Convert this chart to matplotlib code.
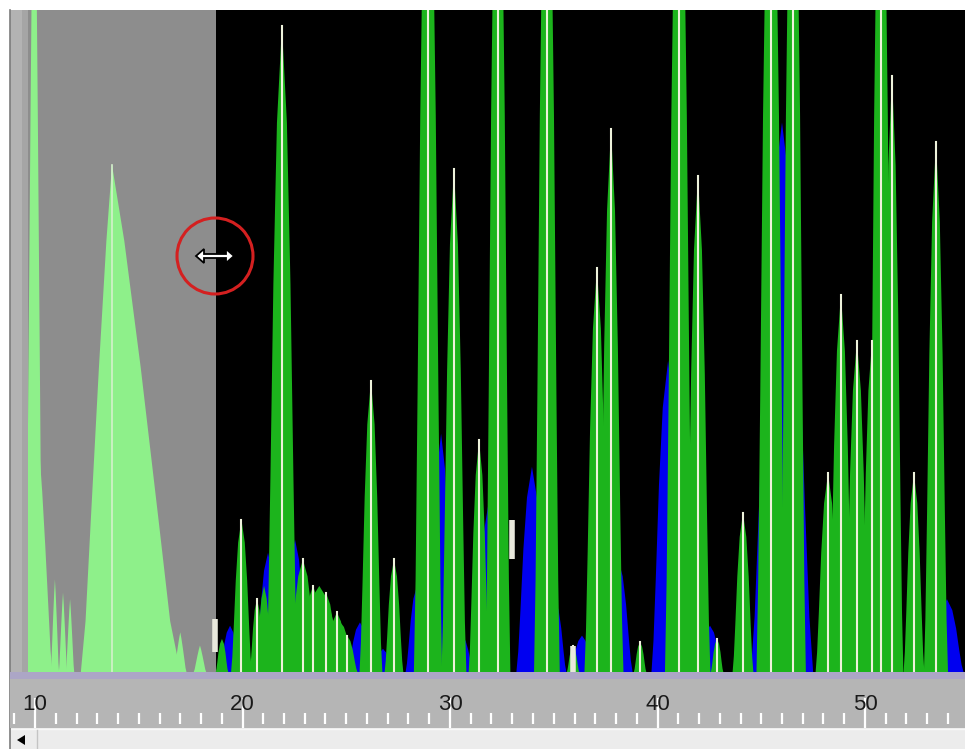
import matplotlib
matplotlib.use("Agg")
import matplotlib.pyplot as plt
from matplotlib.patches import Circle, Rectangle, Polygon

W, H = 965, 749

# time axis (minutes)
tick_major = [10, 20, 30, 40, 50]
tick_minor = [t for t in range(9, 55) if t % 10]

# selected window (grey band)
sel_start, sel_end = 9.66, 18.72

# green trace: peak centre, height (1 = top of window), half width at base
green_c = [19.95, 20.70, 21.90, 22.91, 23.40, 24.02, 24.55, 25.04, 26.19, 27.30,
           28.94, 30.19, 31.40, 32.31, 34.67, 35.93, 37.08, 37.76, 39.16, 41.04,
           41.95, 42.87, 44.12, 45.47, 46.53, 48.22, 48.84, 49.61, 50.34, 50.77,
           51.30, 52.36, 53.42]
green_h = [0.23, 0.11, 0.976, 0.17, 0.13, 0.12, 0.09, 0.055, 0.44, 0.17,
           1.4, 0.76, 0.35, 1.4, 1.4, 0.04, 0.61, 0.82, 0.045, 1.4,
           0.75, 0.05, 0.24, 1.4, 1.4, 0.30, 0.57, 0.50, 0.50, 1.4,
           0.90, 0.30, 0.80]
green_w = [0.5, 0.35, 0.75, 0.7, 0.65, 0.65, 0.6, 0.5, 0.55, 0.45,
           0.68, 0.6, 0.5, 0.6, 0.62, 0.3, 0.6, 0.6, 0.3, 0.68,
           0.6, 0.3, 0.5, 0.7, 0.62, 0.6, 0.6, 0.6, 0.55, 0.6,
           0.55, 0.5, 0.58]

# green shoulders with no centroid line
shoulder_c = [19.01, 21.04, 23.70, 24.60]
shoulder_h = [0.05, 0.13, 0.13, 0.08]
shoulder_w = [0.3, 0.4, 1.2, 0.9]

# blue trace
blue_c = [19.40, 21.23, 22.53, 25.66, 26.77, 28.41, 29.57, 30.58, 31.83, 33.95,
          35.06, 36.36, 38.10, 40.51, 41.30, 42.53, 46.00, 53.95]
blue_h = [0.07, 0.18, 0.20, 0.075, 0.035, 0.13, 0.36, 0.055, 0.25, 0.31,
          0.11, 0.055, 0.17, 0.47, 0.28, 0.07, 0.83, 0.11]
blue_w = [0.5, 0.6, 0.6, 0.6, 0.45, 0.55, 0.6, 0.55, 0.6, 0.75,
          0.55, 0.55, 0.7, 0.8, 0.7, 0.6, 1.5, 0.8]

# peaks inside the selected window (drawn light green)
sel_c = [9.96, 10.24, 10.96, 11.35, 11.69, 13.71, 17.00, 17.95]
sel_h = [1.4, 0.32, 0.14, 0.12, 0.11, 0.766, 0.06, 0.04]
sel_wl = [0.42, 0.45, 0.2, 0.2, 0.2, 1.5, 0.3, 0.3]
sel_wr = [0.42, 0.6, 0.2, 0.2, 0.2, 3.3, 0.3, 0.3]

# small centroid boxes (time, low, high)
box_x = [18.67, 32.99, 35.93]
box_lo = [0.03, 0.17, 0.0]
box_hi = [0.08, 0.23, 0.04]

# generic peak outline, fractions of height / half width
SHAPE_Y = [0, 0.1, 0.3, 0.6, 0.85, 1.0]
SHAPE_X = [1, 0.88, 0.74, 0.55, 0.32, 0]
SEL_SHAPE_X = [1, 0.85, 0.68, 0.42, 0.18, 0]

# resize cursor outline (pixels, relative to hot spot)
CURSOR = [(-19, 0), (-11, -7), (-11, -2), (11, -2), (11, -7), (19, 0),
          (11, 7), (11, 2), (-11, 2), (-11, 7)]


def px2t(px):
    return (px + 172.5) / 20.75


def pos(x0, y0, x1, y1):
    return [x0 / W, 1 - y1 / H, (x1 - x0) / W, (y1 - y0) / H]


def peak(ax, c, h, wl, wr, color, z, sx=SHAPE_X):
    xs = [c - wl * f for f in sx] + [c + wr * f for f in sx[::-1]]
    ys = [h * f for f in SHAPE_Y] + [h * f for f in SHAPE_Y[::-1]]
    ax.fill(xs, ys, color=color, lw=0, zorder=z)


fig = plt.figure(figsize=(W / 100, H / 100), dpi=100)
fig.patch.set_facecolor("white")

# background pieces in pixel coords
bg = fig.add_axes([0, 0, 1, 1])
bg.set_xlim(0, W)
bg.set_ylim(H, 0)
bg.axis("off")
bg.add_patch(Rectangle((10, 10), 18, 662, color="#b3b3b3", lw=0))
bg.add_patch(Rectangle((22, 10), 6, 662, color="#a5a5a5", lw=0))
bg.add_patch(Rectangle((10, 728), W - 10, 21, color="#ececec", lw=0))
bg.plot([10, W], [728.5, 728.5], color="#f8f8f8", lw=1)
bg.plot([37, 37], [730, 749], color="#c4c4c4", lw=1)
bg.add_patch(Polygon([(17, 740), (25, 735), (25, 745)], closed=True, color="black", lw=0))
bg.plot([9.5, 9.5], [10, 749], color="#7c7c7c", lw=1.2)

# main trace window
ax = fig.add_axes(pos(28, 10, W, 672))
ax.set_xlim(px2t(28), px2t(W))
ax.set_ylim(0, 1)
ax.axis("off")
ax.add_patch(Rectangle((0, 0), 1, 1, transform=ax.transAxes, color="black", zorder=0))
ax.axvspan(sel_start, sel_end, color="#8d8d8d", lw=0, zorder=0.5)

for c, h, w in zip(blue_c, blue_h, blue_w):
    peak(ax, c, h, w, w, "#0000f0", 1)
for c, h, w in zip(shoulder_c, shoulder_h, shoulder_w):
    peak(ax, c, h, w, w, "#1cb41c", 2)
for c, h, w in zip(green_c, green_h, green_w):
    peak(ax, c, h, w, w, "#1cb41c", 2)
    ax.plot([c, c], [0, min(h, 1.01)], color="#eef2dc", lw=1.5, zorder=3)
for c, h, wl, wr in zip(sel_c, sel_h, sel_wl, sel_wr):
    peak(ax, c, h, wl, wr, "#8ef08a", 2, SEL_SHAPE_X)
ax.plot([sel_c[5], sel_c[5]], [0, sel_h[5]], color="#d4f0cc", lw=1.2, zorder=3)
for x, lo, hi in zip(box_x, box_lo, box_hi):
    ax.plot([x, x], [lo, hi], color="#e8e8dc", lw=4, solid_capstyle="butt", zorder=4)

# time scale panel
pan = fig.add_axes(pos(10, 672, W, 728))
pan.set_xlim(px2t(10), px2t(W))
pan.set_ylim(728, 672)
pan.axis("off")
pan.add_patch(Rectangle((0, 0), 1, 1, transform=pan.transAxes, color="#b5b5b5", lw=0, zorder=0))
pan.axhspan(672, 679, color="#aca6c6", lw=0, zorder=0.5)
pan.vlines(tick_minor, 713, 724, color="white", lw=1.6, zorder=1)
pan.vlines(tick_major, 698, 728, color="white", lw=1.6, zorder=1)
for t in tick_major:
    pan.text(t, 704.5, str(t), ha="center", va="center", fontsize=16,
             family="Liberation Sans", color="#1a1a1a", zorder=2)

# cursor with red circle
ov = fig.add_axes([0, 0, 1, 1], zorder=10)
ov.set_xlim(0, W)
ov.set_ylim(H, 0)
ov.axis("off")
ov.patch.set_alpha(0)
ov.add_patch(Circle((215, 256), 38, fill=False, ec="#d42020", lw=2.2))
ov.add_patch(Polygon([(215 + dx, 256 + dy) for dx, dy in CURSOR], closed=True,
                     fc="white", ec="black", lw=1.3))

fig.savefig("out.png", dpi=100, facecolor="white")
